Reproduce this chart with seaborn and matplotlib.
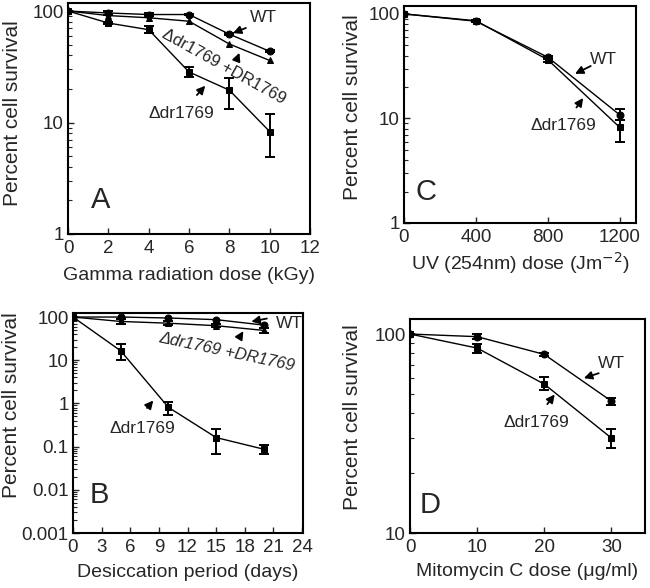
import matplotlib
matplotlib.use("Agg")
import matplotlib.pyplot as plt
import seaborn as sns
from matplotlib.ticker import LogLocator, NullFormatter, FixedLocator, FixedFormatter

sns.set_style("ticks")
plt.rcParams["font.family"] = ["Liberation Sans", "DejaVu Sans"]

# Panel A: gamma radiation
gamma_dose = [0, 2, 4, 6, 8, 10]
gamma_wt = [100, 96, 93, 93, 62, 43.5]
gamma_comp = [100, 91, 87, 81, 50.6, 36]
gamma_mut = [100, 78, 68, 28.4, 19.5, 8.3]
gamma_mut_lo = [100, 76, 63.5, 25.6, 13.3, 4.9]
gamma_mut_hi = [100, 80, 73, 31.5, 25.3, 12]
gamma_wt_lo = [100, 92, 91, 92, 61, 42.5]
gamma_wt_hi = [100, 100, 96, 94, 63, 44.5]

# Panel C: UV
uv_dose = [0, 400, 800, 1200]
uv_wt = [100, 85, 38.5, 10.8]
uv_wt_lo = [100, 83, 37, 9.7]
uv_wt_hi = [100, 87, 40, 12.3]
uv_mut = [100, 86, 36.4, 8.2]
uv_mut_lo = [100, 84, 35, 6.0]
uv_mut_hi = [100, 88, 38, 9.7]

# Panel B: desiccation
des_days = [0, 5, 10, 15, 20]
des_wt = [100, 100, 95, 87, 65]
des_comp = [100, 79, 72, 63, 49]
des_comp_lo = [100, 70, 64, 58, 43]
des_comp_hi = [100, 88, 80, 68, 55]
des_mut = [100, 16.5, 0.81, 0.162, 0.087]
des_mut_lo = [100, 10, 0.54, 0.066, 0.067]
des_mut_hi = [100, 23.5, 1.1, 0.25, 0.11]

# Panel D: mitomycin C
mmc_dose = [0, 10, 20, 30]
mmc_wt = [100, 97, 79, 46]
mmc_wt_lo = [100, 94, 78, 44]
mmc_wt_hi = [100, 100, 80, 47.7]
mmc_mut = [100, 85, 56, 30]
mmc_mut_lo = [100, 80.3, 52.6, 26.8]
mmc_mut_hi = [100, 89.4, 60.9, 33.3]

W, H = 650, 588
fig = plt.figure(figsize=(6.5, 5.88), dpi=100)

TICK_FS = 13.5
XLABEL_FS = 14
YLABEL_FS = 15
NOTE_FS = 12.5
LETTER_FS = 21


def make_ax(l, r, t, b):
    return fig.add_axes([l / W, 1 - b / H, (r - l) / W, (b - t) / H])


def series(ax, x, y, marker, ms, lo=None, hi=None):
    sns.lineplot(x=x, y=y, marker=marker, color="black", markersize=ms,
                 markeredgecolor="black", linewidth=1.0, ax=ax)
    if lo is not None:
        yerr = [[v - l for v, l in zip(y, lo)], [h - v for v, h in zip(y, hi)]]
        ax.errorbar(x, y, yerr=yerr, fmt="none", ecolor="black",
                    elinewidth=1.4, capsize=3.5, capthick=1.4)


def style(ax, xlabel, xticks, xlim, ylim, yticks, ylabels, ylab_xy, xlab_y):
    ax.set_yscale("log")
    ax.set_xlim(*xlim)
    ax.set_ylim(*ylim)
    ax.set_xticks(xticks)
    ax.set_xticklabels([str(t) for t in xticks], fontsize=TICK_FS)
    ax.yaxis.set_major_locator(FixedLocator(yticks))
    ax.yaxis.set_major_formatter(FixedFormatter(ylabels))
    ax.yaxis.set_minor_locator(LogLocator(base=10, subs=range(2, 10), numticks=20))
    ax.yaxis.set_minor_formatter(NullFormatter())
    ax.tick_params(axis="y", labelsize=TICK_FS, pad=3)
    ax.tick_params(axis="x", pad=4)
    ax.tick_params(direction="in", which="both", top=False, right=False)
    ax.tick_params(which="major", length=4, width=1)
    ax.tick_params(which="minor", length=3, width=0.8)
    for s in ax.spines.values():
        s.set_linewidth(1.5)
        s.set_color("black")
    ax.set_xlabel(xlabel, fontsize=XLABEL_FS, va="top")
    ax.set_ylabel("Percent cell survival", fontsize=YLABEL_FS)
    ax.yaxis.set_label_coords(*ylab_xy)
    ax.xaxis.set_label_coords(0.5, xlab_y)


arrow = dict(arrowstyle="-|>", color="black", lw=1.3, mutation_scale=12)

# A
axA = make_ax(68, 310, 3, 234)
series(axA, gamma_dose, gamma_wt, "o", 5, gamma_wt_lo, gamma_wt_hi)
series(axA, gamma_dose, gamma_comp, "^", 5)
series(axA, gamma_dose, gamma_mut, "s", 5, gamma_mut_lo, gamma_mut_hi)
style(axA, "Gamma radiation dose (kGy)", [0, 2, 4, 6, 8, 10, 12], (0, 12),
      (1, 118), [1, 10, 100], ["1", "10", "100"], (-0.19, 0.524), -0.145)
axA.text(9.7, 88, "WT", fontsize=NOTE_FS, ha="center", va="center")
axA.annotate("", xy=(8.05, 62), xytext=(8.95, 72), arrowprops=arrow)
axA.text(7.75, 31.5, "\u0394dr1769 +DR1769", fontsize=12, rotation=-29,
         ha="center", va="center")
axA.annotate("", xy=(8.55, 44.5), xytext=(8.3, 34), arrowprops=arrow)
axA.text(5.64, 12, "\u0394dr1769", fontsize=NOTE_FS, ha="center", va="center")
axA.annotate("", xy=(6.9, 22.3), xytext=(6.3, 16.9), arrowprops=arrow)
axA.text(1.6, 2.0, "A", fontsize=LETTER_FS, ha="center", va="center")

# C
axC = make_ax(404, 636, 6, 223)
series(axC, uv_dose, uv_wt, "o", 5, uv_wt_lo, uv_wt_hi)
series(axC, uv_dose, uv_mut, "s", 5, uv_mut_lo, uv_mut_hi)
style(axC, "UV (254nm) dose (Jm$^{-2}$)", [0, 400, 800, 1200], (0, 1290),
      (1, 119), [1, 10, 100], ["1", "10", "100"], (-0.181, 0.535), -0.125)
axC.text(1107, 36.4, "WT", fontsize=NOTE_FS, ha="center", va="center")
axC.annotate("", xy=(937, 26), xytext=(1052, 32.6), arrowprops=arrow)
axC.text(885, 8.5, "\u0394dr1769", fontsize=NOTE_FS, ha="center", va="center")
axC.annotate("", xy=(1005, 16.5), xytext=(950, 12.1), arrowprops=arrow)
axC.text(120, 2.0, "C", fontsize=LETTER_FS, ha="center", va="center")

# B
axB = make_ax(73, 303, 313, 533)
series(axB, des_days, des_wt, "o", 5)
series(axB, des_days, des_comp, "^", 5, des_comp_lo, des_comp_hi)
series(axB, des_days, des_mut, "s", 5, des_mut_lo, des_mut_hi)
style(axB, "Desiccation period (days)", [0, 3, 6, 9, 12, 15, 18, 21, 24], (0, 24.1),
      (0.001, 124), [0.001, 0.01, 0.1, 1, 10, 100],
      ["0.001", "0.01", "0.1", "1", "10", "100"], (-0.228, 0.58), -0.14)
axB.text(22.7, 72, "WT", fontsize=NOTE_FS, ha="center", va="center")
axB.annotate("", xy=(18.4, 76), xytext=(20.6, 95), arrowprops=arrow)
axB.text(16.1, 15.9, "\u0394dr1769 +DR1769", fontsize=12, rotation=-12,
         style="italic", ha="center", va="center")
axB.annotate("", xy=(18.0, 53.5), xytext=(17.4, 32.5), arrowprops=arrow)
axB.text(7.22, 0.26, "\u0394dr1769", fontsize=NOTE_FS, ha="center", va="center")
axB.annotate("", xy=(8.6, 1.31), xytext=(7.57, 0.70), arrowprops=arrow)
axB.text(2.8, 0.0075, "B", fontsize=LETTER_FS, ha="center", va="center")

# D
axD = make_ax(410, 645, 319, 533)
series(axD, mmc_dose, mmc_wt, "o", 5, mmc_wt_lo, mmc_wt_hi)
series(axD, mmc_dose, mmc_mut, "s", 5, mmc_mut_lo, mmc_mut_hi)
style(axD, "Mitomycin C dose (\u03bcg/ml)", [0, 10, 20, 30], (0, 35),
      (10, 119), [10, 100], ["10", "100"], (-0.204, 0.542), -0.14)
axD.text(30.0, 71.5, "WT", fontsize=NOTE_FS, ha="center", va="center")
axD.annotate("", xy=(25.5, 59.4), xytext=(28.5, 64.2), arrowprops=arrow)
axD.text(18.8, 36, "\u0394dr1769", fontsize=NOTE_FS, ha="center", va="center")
axD.annotate("", xy=(21.8, 51.0), xytext=(20.2, 43.3), arrowprops=arrow)
axD.text(3.0, 13.8, "D", fontsize=LETTER_FS, ha="center", va="center")

fig.savefig("out.png", dpi=100)
